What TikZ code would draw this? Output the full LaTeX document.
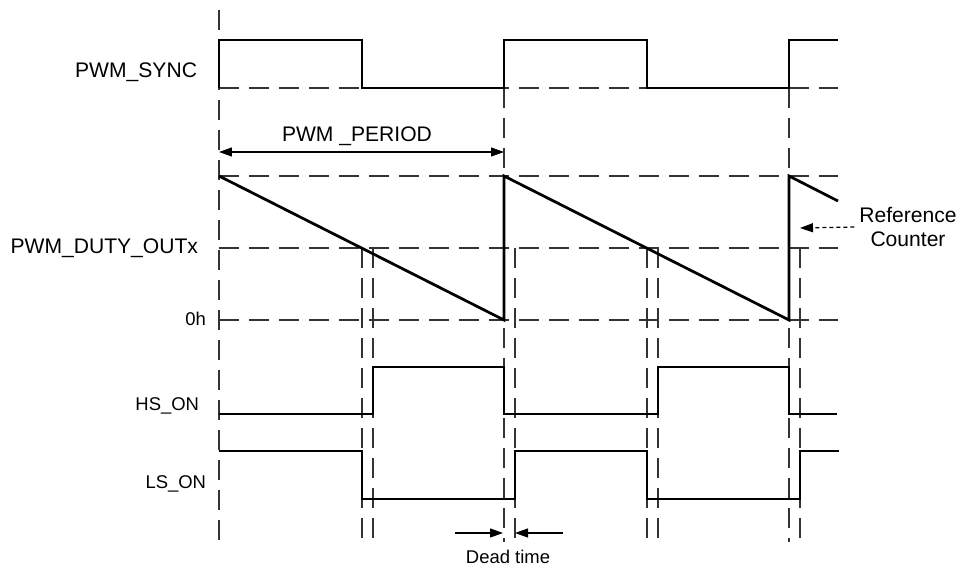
\documentclass[tikz,border=0pt]{standalone}
\usepackage{fontspec}
\setmainfont{Liberation Sans}
\usetikzlibrary{arrows.meta}
\definecolor{c333333}{RGB}{51,51,51}
\definecolor{c000000}{RGB}{0,0,0}
\def \pxscale {0.020000}

\begin{document}
\begin{tikzpicture}[x=\pxscale cm, y=-\pxscale cm, inner sep=0pt, outer sep=0pt,
  wave/.style={draw=c000000, line width=0.055cm, line join=miter},
  gridline/.style={draw=c333333, line width=0.022cm, dash pattern=on 0.4cm off 0.2cm},
  dimarrow/.style={draw=c000000, line width=0.025cm, {Triangle[length=0.26cm,width=0.18cm]}-{Triangle[length=0.26cm,width=0.18cm]}},
  gaparrow/.style={draw=c000000, line width=0.025cm, -{Triangle[length=0.26cm,width=0.18cm]}},
  refarrow/.style={draw=c000000, line width=0.025cm, dash pattern=on 0.08cm off 0.06cm, -{Triangle[length=0.26cm,width=0.18cm]}},
  biglabel/.style={text=c000000, font=\fontsize{12}{14}\selectfont},
  smalllabel/.style={text=c000000, font=\fontsize{10.5}{12}\selectfont}]

  \useasboundingbox (0,0) rectangle (957,567);

  % horizontal reference levels
  \path[gridline] (219, 88) -- (838, 88);

  \path[gridline] (219, 176) -- (838, 176);

  \path[gridline] (219, 248) -- (838, 248);

  \path[gridline] (219, 320) -- (838, 320);

  % vertical time marks
  \path[gridline] (219, 10) -- (219, 542);

  \foreach \tx in {504, 789}
    \path[gridline] (\tx, 88) -- (\tx, 542);

  \foreach \tx in {362, 373, 515, 647, 658, 800}
    \path[gridline] (\tx, 248) -- (\tx, 542);

  % signals
  \path[wave] (219, 88) -- (219, 40) -- (362, 40) -- (362, 88) -- (504, 88) -- (504, 40) -- (647, 40) -- (647, 88) -- (789, 88) -- (789, 40) -- (838, 40);

  \path[wave] (219, 176) -- (504, 320) -- (504, 176) -- (789, 320) -- (789, 176) -- (838, 201);

  \path[wave] (219, 414) -- (373, 414) -- (373, 367) -- (504, 367) -- (504, 414) -- (658, 414) -- (658, 367) -- (789, 367) -- (789, 414) -- (837, 414);

  \path[wave] (219, 451) -- (362, 451) -- (362, 499) -- (515, 499) -- (515, 451) -- (647, 451) -- (647, 499) -- (800, 499) -- (800, 451) -- (839, 451);

  % left labels
  \node[biglabel, anchor=east] (lblsync) at (197, 72) {PWM\_SYNC};

  \node[biglabel, anchor=east] (lblduty) at (198, 248) {PWM\_DUTY\_OUTx};

  \node[smalllabel, anchor=east] (lblzero) at (206, 319) {0h};

  \node[smalllabel, anchor=east] (lblhs) at (199, 406) {HS\_ON};

  \node[smalllabel, anchor=east] (lblls) at (206, 484) {LS\_ON};

  % period
  \coordinate (perstart) at (219, 152);
  \coordinate (perend) at (504, 152);
  \path[dimarrow] (perstart) -- (perend);

  \node[biglabel] (lblperiod) at (357, 136) {PWM \_PERIOD};

  % reference counter
  \node[biglabel, align=center] (refcnt) at (908, 227) {Reference\\Counter};

  \coordinate (cnttip) at (800, 228);
  \path[refarrow] ([xshift=-0.1cm]refcnt.west) -- (cnttip);

  % dead time
  \coordinate (dtleft) at (503, 533);
  \coordinate (dtright) at (515, 533);
  \coordinate (dtfromleft) at (455, 533);
  \coordinate (dtfromright) at (563, 533);
  \path[gaparrow] (dtfromleft) -- (dtleft);

  \path[gaparrow] (dtfromright) -- (dtright);

  \node[smalllabel] (lbldead) at (508, 557) {Dead time};

\end{tikzpicture}
\end{document}
